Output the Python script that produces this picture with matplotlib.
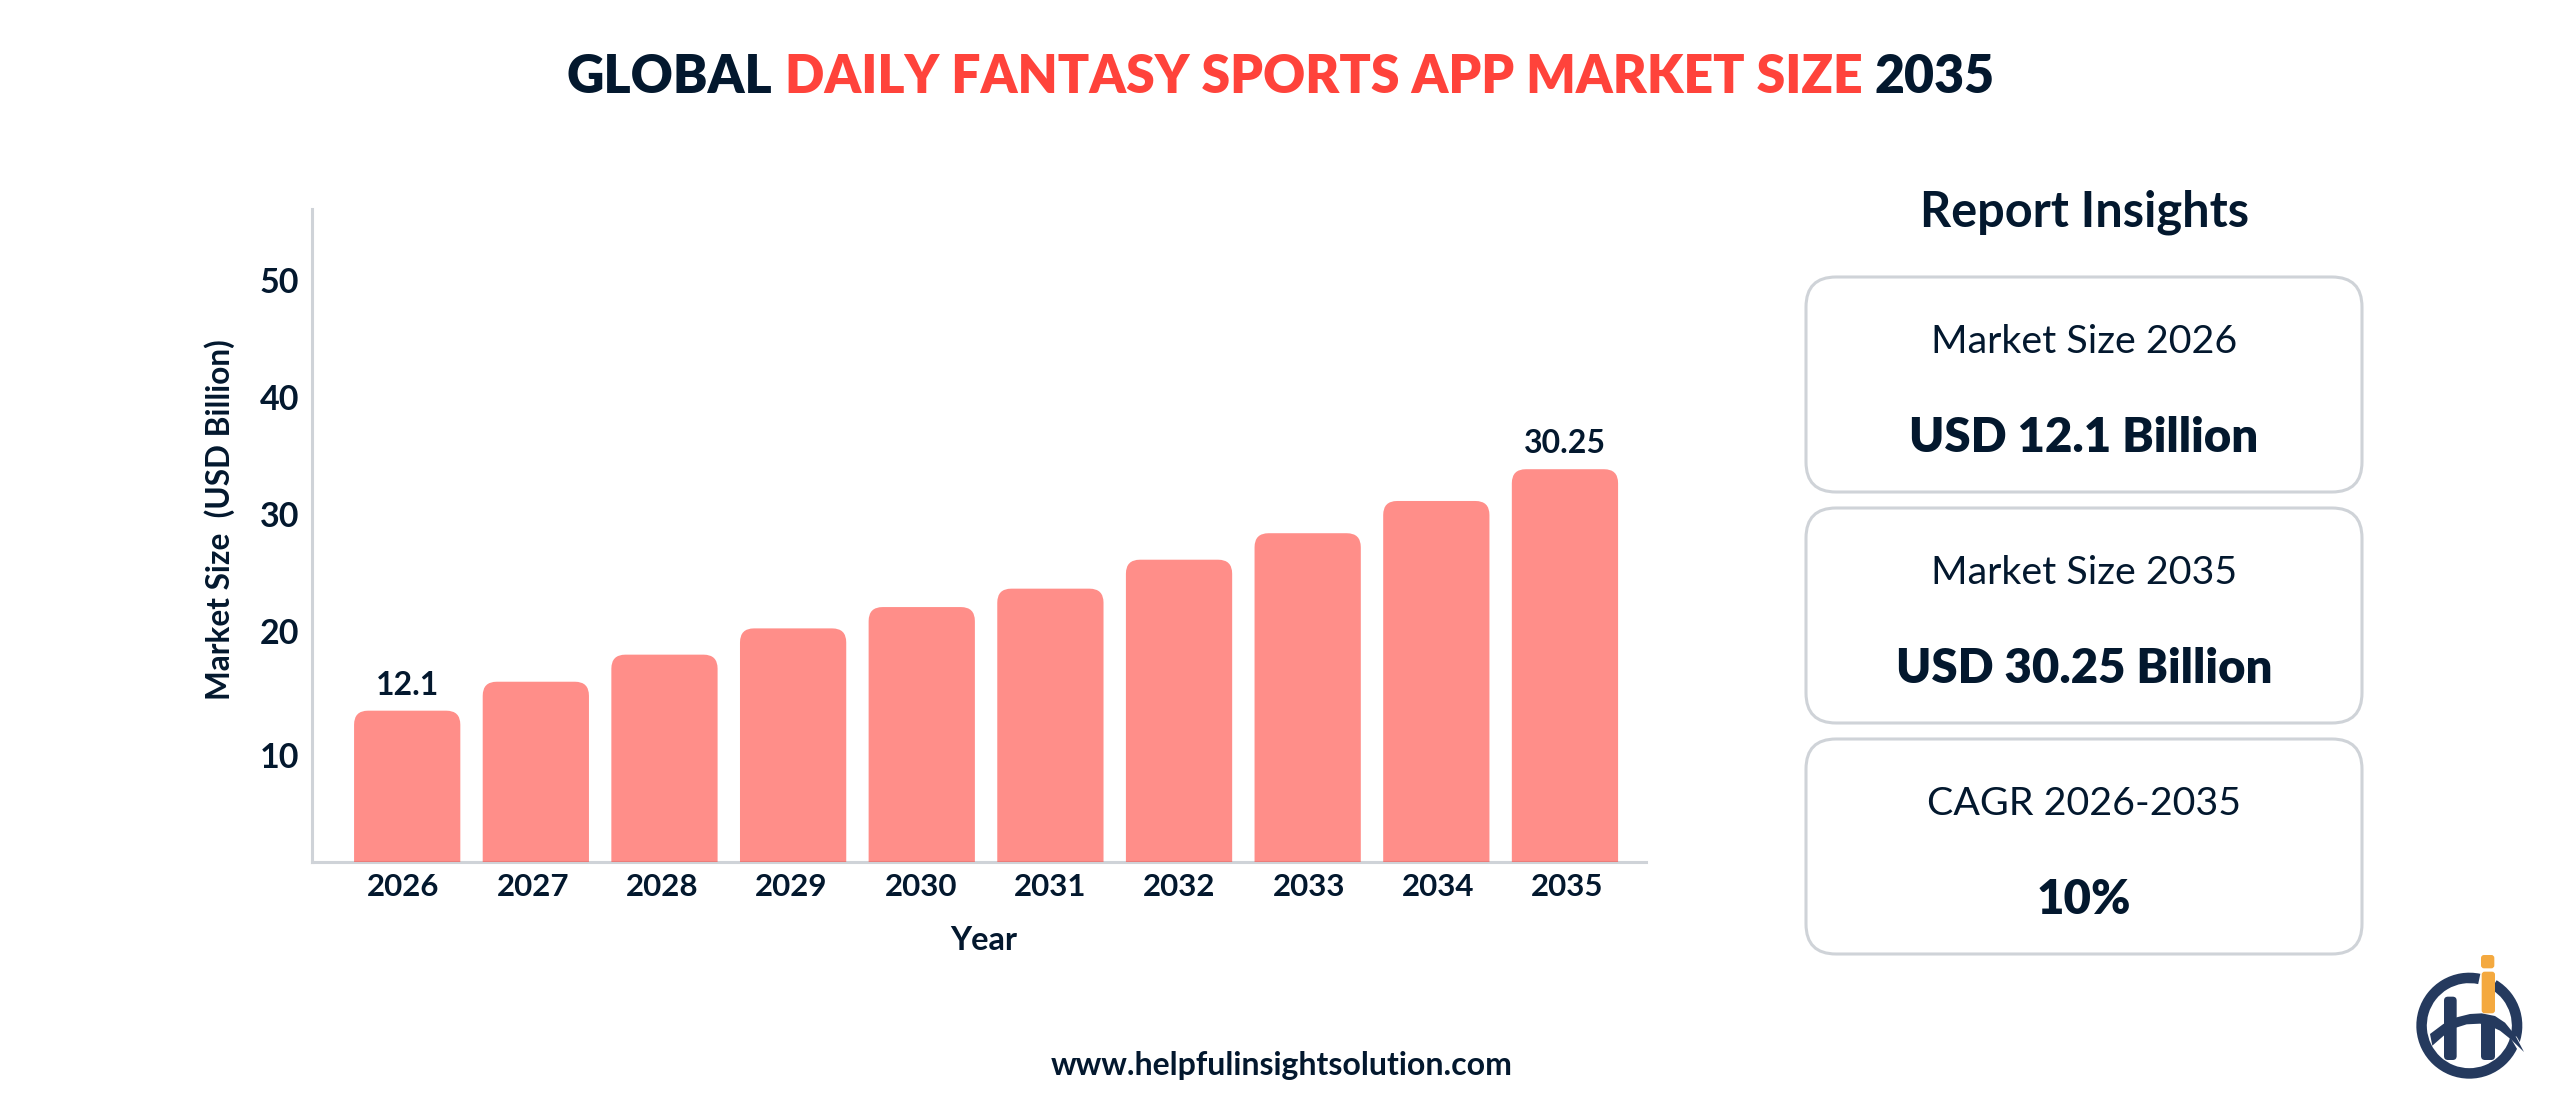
import matplotlib
matplotlib.use('Agg')
import matplotlib.pyplot as plt
import numpy as np
from matplotlib.patches import FancyBboxPatch, PathPatch, Wedge
from matplotlib.path import Path

plt.rcParams['font.family'] = ['Lato', 'DejaVu Sans']

# Chart data
years = ['2026', '2027', '2028', '2029', '2030', '2031', '2032', '2033', '2034', '2035']
bar_heights = [13.22, 15.69, 18.0, 20.24, 22.06, 23.63, 26.1, 28.36, 31.11, 33.82]
bar_labels = ['12.1', '', '', '', '', '', '', '', '', '30.25']
y_ticks = [10, 20, 30, 40, 50]

card_titles = ['Market Size 2026', 'Market Size 2035', 'CAGR 2026-2035']
card_values = ['USD 12.1 Billion', 'USD 30.25 Billion', '10%']

DARK = '#03182E'
RED = '#FF433B'
GREY = '#CFD3D8'
NAVY = '#253A5E'
ORANGE = '#F4A93F'

W, H = 2560, 1117
fig = plt.figure(figsize=(W / 100, H / 100), dpi=100, facecolor='white')

# Overlay in image pixels, for everything outside the plot
over = fig.add_axes([0, 0, 1, 1])
over.set_xlim(0, W)
over.set_ylim(H, 0)
over.axis('off')

# Main plot
ax = fig.add_axes([312 / W, 1 - 862 / H, (1646 - 312) / W, (862 - 209) / H])
ax.patch.set_alpha(0)
ax.set_xlim(-0.74, 9.63)
ax.set_ylim(0.31, 56.02)

x = np.arange(len(years))
bars = ax.bar(x, bar_heights, width=0.826, color=RED, alpha=0.6)

# Swap the square bars for ones with round top corners
px_x = 1334 / (ax.get_xlim()[1] - ax.get_xlim()[0])
px_y = 653 / (ax.get_ylim()[1] - ax.get_ylim()[0])
radius = 14 / px_x
for bar in bars:
    bar.set_visible(False)
    low = ax.get_ylim()[0] - 3
    ax.add_patch(FancyBboxPatch((bar.get_x(), low), bar.get_width(), bar.get_height() - low,
                                boxstyle=f'round,pad=0,rounding_size={radius}',
                                mutation_aspect=px_x / px_y, facecolor=RED, edgecolor='none',
                                alpha=0.6, zorder=3))

for i, label in enumerate(bar_labels):
    if label:
        ax.annotate(label, (x[i], bar_heights[i]), xytext=(0, 8), textcoords='offset points',
                    ha='center', va='bottom', fontsize=23, fontweight='bold', color=DARK)

for side in ['top', 'right']:
    ax.spines[side].set_visible(False)
for side in ['left', 'bottom']:
    ax.spines[side].set_color(GREY)
    ax.spines[side].set_linewidth(2.2)

ax.set_xticks(np.linspace(-0.03, 9.02, len(years)), years)
# the 10 sits a little low on the original axis
ax.set_yticks([9.4] + y_ticks[1:], [str(t) for t in y_ticks])
ax.tick_params(axis='both', length=0, labelcolor=DARK)
ax.tick_params(axis='x', pad=8, labelsize=22.5)
ax.tick_params(axis='y', pad=9, labelsize=24.5)
for lab in ax.get_xticklabels() + ax.get_yticklabels():
    lab.set_fontweight('bold')

over.text(220, 520, 'Market Size  (USD Billion)', rotation=90, ha='center', va='center',
          fontsize=22.8, fontweight='bold', color=DARK)
over.text(984, 941, 'Year', ha='center', va='center', fontsize=23.5, fontweight='bold', color=DARK)

# Title in three colours, laid end to end
renderer = fig.canvas.get_renderer()
cursor = 567
for piece, col in [('GLOBAL', DARK), ('DAILY FANTASY SPORTS APP MARKET SIZE', RED), ('2035', DARK)]:
    t = over.text(cursor, 73, piece, ha='left', va='center_baseline', fontsize=37.4,
                  fontweight='heavy', color=col)
    cursor = t.get_window_extent(renderer).x1 + 12

over.text(2084, 212, 'Report Insights', ha='center', va='center', fontsize=35,
          fontweight='bold', color=DARK)

# Cards
card_tops = [277, 508, 739]
for top, title, value in zip(card_tops, card_titles, card_values):
    over.add_patch(FancyBboxPatch((1806, top), 556, 215, boxstyle='round,pad=0,rounding_size=30',
                                  facecolor='white', edgecolor=GREY, linewidth=2.2))
    over.text(2084, top + 65, title, ha='center', va='center', fontsize=28.4, color=DARK)
    over.text(2084, top + 161, value, ha='center', va='center', fontsize=34,
              fontweight='heavy', color=DARK)

over.text(1282, 1066, 'www.helpfulinsightsolution.com', ha='center', va='center', fontsize=23,
          fontweight='bold', color=DARK)


# Logo, drawn from the 3x zoom coordinates
def lp(px, py):
    return 2380 + px / 3, 930 + py / 3


def logo_shape(points, color):
    xy = [lp(*p) for p in points]
    xy.append(xy[0])
    codes = [Path.MOVETO] + [Path.LINETO] * (len(xy) - 2) + [Path.CLOSEPOLY]
    over.add_patch(PathPatch(Path(xy, codes), facecolor=color, edgecolor='none'))


cx, cy = lp(268, 287)
over.add_patch(Wedge((cx, cy), 53, -59, 282, width=10.5, facecolor=NAVY, edgecolor='none'))
over.add_patch(FancyBboxPatch(lp(192, 200), 38 / 3, 190 / 3, boxstyle='round,pad=0,rounding_size=4',
                              facecolor=NAVY, edgecolor='none'))
over.add_patch(FancyBboxPatch(lp(303, 270), 42 / 3, 120 / 3, boxstyle='round,pad=0,rounding_size=4',
                              facecolor=NAVY, edgecolor='none'))
# white cut under the tail of the swoop
logo_shape([(385, 312), (410, 320), (440, 372), (420, 372)], 'white')
logo_shape([(150, 312), (190, 282), (230, 262), (270, 252), (305, 250), (345, 258), (375, 278),
            (405, 315), (432, 366), (395, 330), (360, 302), (330, 288), (300, 281), (260, 283),
            (225, 294), (190, 318), (157, 347)], NAVY)
over.add_patch(FancyBboxPatch(lp(303, 75), 40 / 3, 40 / 3, boxstyle='round,pad=0,rounding_size=3',
                              facecolor=ORANGE, edgecolor='none'))
over.add_patch(FancyBboxPatch(lp(305, 125), 40 / 3, 125 / 3, boxstyle='round,pad=0,rounding_size=3',
                              facecolor=ORANGE, edgecolor='none'))

fig.savefig('out.png', dpi=100)
